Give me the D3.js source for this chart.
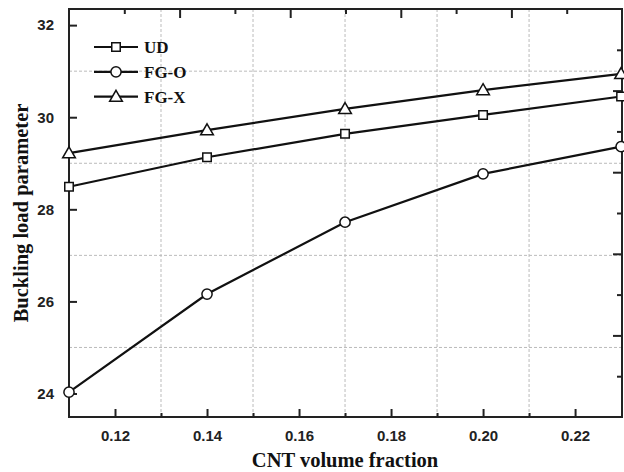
<!DOCTYPE html>
<html>
<head>
<meta charset="utf-8">
<script src="https://cdnjs.cloudflare.com/ajax/libs/d3/7.8.5/d3.min.js"></script>
<style>
  body { margin: 0; background: #fff; }
  .tick-label { font-family: "Liberation Sans", Arial, sans-serif; font-weight: bold; font-size: 15px; fill: #222; }
  .axis-title { font-family: "Liberation Serif", "Times New Roman", serif; font-weight: bold; font-size: 20.5px; fill: #111; }
  .legend-text { font-family: "Liberation Serif", "Times New Roman", serif; font-weight: bold; font-size: 17px; fill: #111; }
</style>
</head>
<body>
<div id="chart"></div>
<script>
var svgWidth = 624;
var svgHeight = 472;

var margin = { top: 9, right: 2, bottom: 55, left: 69 };
var width = svgWidth - margin.left - margin.right;
var height = svgHeight - margin.top - margin.bottom;

// data
var fractions = [0.11, 0.14, 0.17, 0.20, 0.23];
var udValues = [28.49, 29.13, 29.64, 30.05, 30.45];
var fgoValues = [24.03, 26.16, 27.72, 28.77, 29.36];
var fgxValues = [29.22, 29.72, 30.18, 30.59, 30.94];

var xTicks = [0.12, 0.14, 0.16, 0.18, 0.20, 0.22];
var xMinor = [0.13, 0.15, 0.17, 0.19, 0.21];
var yTicks = [24, 26, 28, 30, 32];
var yMinor = [25, 27, 29, 31];
// the mirror axes on top / right use their own 10-step division
var mirrorTicks = [1, 2, 3, 4, 5, 6, 7, 8, 9];

var series = [
  { name: "UD", values: udValues, marker: "square" },
  { name: "FG-O", values: fgoValues, marker: "circle" },
  { name: "FG-X", values: fgxValues, marker: "triangle" }
];

var svg = d3.select("#chart")
  .append("svg")
  .attr("width", svgWidth)
  .attr("height", svgHeight);

var chartGroup = svg.append("g")
  .attr("transform", `translate(${margin.left}, ${margin.top})`);

var xScale = d3.scaleLinear().domain([0.11, 0.2302]).range([0, width]);
var yScale = d3.scaleLinear().domain([23.49, 32.35]).range([height, 0]);
var topScale = d3.scaleLinear().domain([0, 10]).range([0, width]);
var rightScale = d3.scaleLinear().domain([0, 10]).range([height, 0]);

// grid lines at the minor ticks
chartGroup.selectAll(".vgrid")
  .data(xMinor)
  .enter()
  .append("line")
  .attr("x1", d => xScale(d))
  .attr("x2", d => xScale(d))
  .attr("y1", 0)
  .attr("y2", height)
  .attr("stroke", "#bbb")
  .attr("stroke-width", 1)
  .attr("stroke-dasharray", "3,2");

chartGroup.selectAll(".hgrid")
  .data(yMinor)
  .enter()
  .append("line")
  .attr("x1", 0)
  .attr("x2", width)
  .attr("y1", d => yScale(d))
  .attr("y2", d => yScale(d))
  .attr("stroke", "#bbb")
  .attr("stroke-width", 1)
  .attr("stroke-dasharray", "3,2");

// axes (ticks pointing inward)
var bottomAxis = d3.axisBottom(xScale).tickValues(xTicks).tickSize(-8).tickPadding(13)
  .tickFormat(d3.format(".2f"));
var bottomMinor = d3.axisBottom(xScale).tickValues(xMinor).tickSize(-4).tickFormat("");
var leftAxis = d3.axisLeft(yScale).tickValues(yTicks).tickSize(-8).tickPadding(15)
  .tickFormat(d3.format("d"));
var topAxis = d3.axisTop(topScale).tickValues(mirrorTicks).tickFormat("")
  .tickSize(-4);
var rightAxis = d3.axisRight(rightScale).tickValues(mirrorTicks).tickFormat("")
  .tickSize(-4);

function styleAxis(g) {
  g.select(".domain").remove();
  g.selectAll(".tick line").attr("stroke", "#222").attr("stroke-width", 2);
  g.selectAll(".tick text").attr("class", "tick-label");
}

chartGroup.append("g")
  .attr("transform", `translate(0, ${height})`)
  .call(bottomAxis)
  .call(styleAxis);

chartGroup.append("g")
  .attr("transform", `translate(0, ${height})`)
  .call(bottomMinor)
  .call(styleAxis);

chartGroup.append("g")
  .call(leftAxis)
  .call(styleAxis);

var topG = chartGroup.append("g").call(topAxis).call(styleAxis);
topG.selectAll(".tick line").attr("y2", d => d % 2 === 0 ? 9 : 5);

var rightG = chartGroup.append("g")
  .attr("transform", `translate(${width}, 0)`)
  .call(rightAxis)
  .call(styleAxis);
rightG.selectAll(".tick line").attr("x2", d => d % 2 === 0 ? -9 : -5);

// frame
chartGroup.append("rect")
  .attr("x", 0)
  .attr("y", 0)
  .attr("width", width)
  .attr("height", height)
  .attr("fill", "none")
  .attr("stroke", "#222")
  .attr("stroke-width", 2);

// marker shapes
var symbolFor = {
  square: d3.symbol().type(d3.symbolSquare).size(72),
  circle: d3.symbol().type(d3.symbolCircle).size(82),
  triangle: d3.symbol().type(d3.symbolTriangle).size(70)
};

var line = d3.line()
  .x(d => xScale(d[0]))
  .y(d => yScale(d[1]));

series.forEach(function(s) {
  var pts = fractions.map((f, i) => [f, s.values[i]]);
  chartGroup.append("path")
    .datum(pts)
    .attr("d", line)
    .attr("fill", "none")
    .attr("stroke", "#111")
    .attr("stroke-width", 2.2);

  chartGroup.selectAll(null)
    .data(pts)
    .enter()
    .append("path")
    .attr("d", symbolFor[s.marker])
    .attr("transform", d => `translate(${xScale(d[0])}, ${yScale(d[1]) + (s.marker === "triangle" ? 1 : 0)})`)
    .attr("fill", "#fff")
    .attr("stroke", "#111")
    .attr("stroke-width", 1.5);
});

// legend
var legend = svg.append("g")
  .attr("transform", "translate(94, 47)");

series.forEach(function(s, i) {
  var row = legend.append("g").attr("transform", `translate(0, ${i * 24.8})`);
  row.append("line")
    .attr("x1", 0).attr("x2", 44)
    .attr("y1", 0).attr("y2", 0)
    .attr("stroke", "#111")
    .attr("stroke-width", 2.2);
  row.append("path")
    .attr("d", symbolFor[s.marker])
    .attr("transform", `translate(22, ${s.marker === "triangle" ? 1 : 0})`)
    .attr("fill", "#fff")
    .attr("stroke", "#111")
    .attr("stroke-width", 1.5);
  row.append("text")
    .attr("class", "legend-text")
    .attr("x", 50)
    .attr("y", 6)
    .text(s.name);
});

// axis titles
svg.append("text")
  .attr("class", "axis-title")
  .attr("x", margin.left + xScale(0.17))
  .attr("y", 467)
  .attr("text-anchor", "middle")
  .text("CNT volume fraction");

svg.append("text")
  .attr("class", "axis-title")
  .attr("transform", `translate(28, ${margin.top + height / 2}) rotate(-90)`)
  .attr("text-anchor", "middle")
  .text("Buckling load parameter");
</script>
</body>
</html>
